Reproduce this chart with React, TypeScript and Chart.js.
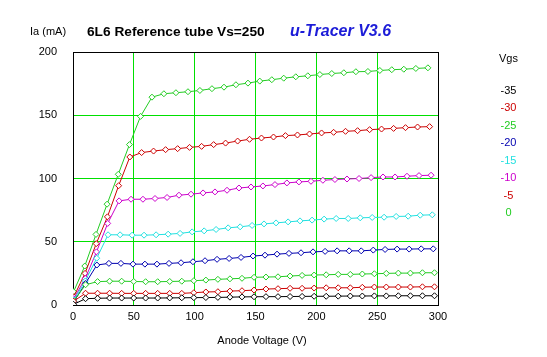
import { useEffect, useRef } from "react";
import { Chart, registerables } from "chart.js";

Chart.register(...registerables);

// ---- data ----
const vgsLabels = ["-35", "-30", "-25", "-20", "-15", "-10", "-5", "0"];
const seriesColors = ["#000000", "#cc0000", "#22cc22", "#0000b0", "#22e0e0", "#cc00cc", "#cc0000", "#22cc22"];
const xTickValues = [0, 50, 100, 150, 200, 250, 300];
const yTickValues = [0, 50, 100, 150, 200];

const vaLow = [0.5, 10.3, 20.2, 30.1, 40.0, 49.9, 59.7, 69.6, 79.5, 89.4, 99.3, 109.2, 119.1, 129.0, 138.9, 148.8, 158.6, 168.5, 178.4, 188.3, 198.2, 208.1, 218.0, 227.9, 237.8, 247.7, 257.5, 267.4, 277.3, 287.2, 297.1];
const vaBlue = [0.7, 10.2, 19.6, 29.5, 39.4, 49.3, 59.1, 69.0, 78.9, 88.8, 98.6, 108.5, 118.4, 128.3, 138.1, 148.0, 157.8, 167.7, 177.5, 187.4, 197.3, 207.2, 217.1, 227.0, 236.9, 246.8, 256.5, 266.4, 276.3, 286.2, 296.1];
const vaCyan = [0.7, 10.1, 19.5, 28.8, 38.7, 48.6, 58.4, 68.3, 78.2, 88.0, 97.9, 107.8, 117.6, 127.5, 137.4, 147.2, 157.0, 166.9, 176.8, 186.6, 196.5, 206.4, 216.3, 226.2, 236.1, 245.9, 255.7, 265.6, 275.5, 285.4, 295.3];
const vaMagenta = [0.6, 10.1, 19.3, 28.5, 37.9, 47.7, 57.5, 67.4, 77.3, 87.1, 97.0, 106.9, 116.7, 126.6, 136.4, 146.3, 156.1, 166.0, 175.8, 185.7, 195.6, 205.4, 215.3, 225.2, 235.1, 245.0, 254.8, 264.7, 274.5, 284.4, 294.3];
const vaRed5 = [0.6, 9.9, 19.1, 28.3, 37.5, 46.7, 56.4, 66.2, 76.1, 86.0, 95.8, 105.7, 115.6, 125.4, 135.3, 145.1, 154.9, 164.8, 174.6, 184.5, 194.4, 204.3, 214.2, 224.0, 233.9, 243.8, 253.6, 263.5, 273.3, 283.2, 293.1];
const vaGreen0 = [0.5, 9.7, 18.9, 28.0, 37.2, 46.4, 55.5, 64.9, 74.7, 84.6, 94.5, 104.3, 114.2, 124.1, 133.9, 143.8, 153.5, 163.4, 173.2, 183.1, 193.0, 202.9, 212.7, 222.6, 232.5, 242.4, 252.2, 262.0, 271.9, 281.8, 291.7];

const iaVgs35 = [0.5, 5.0, 5.3, 5.5, 5.5, 5.5, 5.5, 5.5, 5.6, 5.7, 5.8, 5.9, 6.0, 6.2, 6.4, 6.5, 6.6, 6.6, 6.7, 6.8, 6.9, 6.9, 7.0, 7.1, 7.1, 7.2, 7.2, 7.3, 7.3, 7.3, 7.3];
const iaVgs30 = [3, 9.3, 9.3, 9.3, 9.2, 9.2, 9.2, 9.2, 9.2, 9.2, 9.7, 10.3, 10.5, 11, 11.3, 11.8, 12.6, 12.9, 13.2, 13.2, 13.4, 13.6, 13.6, 13.6, 14, 14.2, 14.2, 14.2, 14.2, 14.4, 14.4];
const iaVgs25 = [3, 16, 18.5, 18.8, 18.8, 18.6, 18.4, 18.4, 18.6, 18.8, 19.2, 19.7, 20.3, 20.7, 21.1, 21.9, 22.1, 22.3, 22.9, 23.4, 23.7, 23.9, 24.2, 24.2, 24.5, 24.7, 25, 25.2, 25.2, 25.5, 25.5];
const iaVgs20 = [2.6, 17, 31.6, 32.9, 32.9, 32.3, 32.3, 32.3, 32.9, 33.4, 34.2, 35, 36.1, 36.8, 37.6, 38.7, 39.4, 40.2, 40.8, 41.3, 42, 42.4, 42.8, 42.8, 42.8, 43.4, 43.9, 44.2, 44.2, 44.4, 44.4];
const iaVgs15 = [4, 19, 37, 55.5, 55.5, 55.2, 55.2, 55.5, 56, 56.6, 57.8, 58.6, 59.7, 61, 61.8, 62.9, 64.1, 64.9, 65.7, 66.5, 67.1, 67.9, 68.4, 68.4, 68.9, 69.2, 69.4, 70, 70.2, 71, 71.3];
const iaVgs10 = [5, 21, 42, 64.5, 82.3, 83.6, 83.6, 84.2, 85, 86.8, 87.6, 88.6, 89.4, 90.7, 92.5, 93.3, 94.1, 95.2, 96.5, 97.3, 97.8, 98.6, 99.2, 99.6, 100, 100.7, 101.2, 101.2, 101.8, 102.3, 102.6];
const iaVgs5 = [6.5, 25, 48.5, 69.7, 94.3, 117, 120.5, 121.7, 122.8, 123.6, 124.6, 125.4, 126.8, 128, 129.6, 131, 132, 132.8, 133.9, 134.4, 135.2, 136, 136.5, 137.3, 137.8, 138.6, 139.1, 139.6, 140.2, 140.7, 141];
const iaVgs0 = [10.5, 30.8, 55.8, 79.7, 103.3, 126.8, 149.1, 164.3, 167, 167.8, 168.6, 169.6, 171, 172.2, 174.1, 175.4, 177, 178.1, 179.3, 180.4, 181.2, 182.2, 183, 183.6, 184.4, 184.6, 185.4, 186, 186.4, 187, 187.5];

const seriesVa = [vaLow, vaLow, vaLow, vaBlue, vaCyan, vaMagenta, vaRed5, vaGreen0];
const seriesIa = [iaVgs35, iaVgs30, iaVgs25, iaVgs20, iaVgs15, iaVgs10, iaVgs5, iaVgs0];

const FONT = "'Liberation Sans', Arial, sans-serif";
const GRID_GREEN = "#00e000";

const framePlugin = {
  id: "frame",
  beforeDatasetsDraw(chart: any) {
    const { ctx, chartArea: a } = chart;
    ctx.save();
    ctx.strokeStyle = "#000";
    ctx.lineWidth = 1;
    ctx.strokeRect(Math.round(a.left) + 0.5, Math.round(a.top) + 0.5, Math.round(a.right - a.left), Math.round(a.bottom - a.top));
    ctx.restore();
  },
};

const textPlugin = {
  id: "texts",
  afterDraw(chart: any) {
    const { ctx } = chart;
    ctx.save();
    ctx.textBaseline = "alphabetic";
    ctx.textAlign = "left";
    ctx.fillStyle = "#000";
    ctx.font = `11px ${FONT}`;
    ctx.fillText("Ia (mA)", 30, 35);
    ctx.font = `bold 13.7px ${FONT}`;
    ctx.fillText("6L6 Reference tube Vs=250", 87, 36);
    ctx.fillStyle = "#1c1cd8";
    ctx.font = `italic bold 16px ${FONT}`;
    ctx.fillText("u-Tracer V3.6", 290, 36);
    // x axis title
    ctx.textAlign = "center";
    ctx.fillStyle = "#000";
    ctx.font = `11px ${FONT}`;
    ctx.fillText("Anode Voltage (V)", 262, 344);
    // legend
    ctx.fillText("Vgs", 508.5, 62);
    chart.data.datasets.forEach((ds: any, i: number) => {
      ctx.fillStyle = ds.borderColor;
      ctx.fillText(ds.label, 508.5, 93.5 + i * 17.5);
    });
    ctx.restore();
  },
};

export default function App() {
  const ref = useRef<HTMLCanvasElement | null>(null);
  useEffect(() => {
    if (!ref.current) return;
    const datasets = vgsLabels.map((lab, i) => ({
      label: lab,
      data: seriesVa[i].map((v, j) => ({ x: v, y: seriesIa[i][j] })),
      borderColor: seriesColors[i],
      backgroundColor: "#ffffff",
      pointBackgroundColor: "#ffffff",
      pointBorderColor: seriesColors[i],
      pointStyle: "rectRot",
      pointRadius: 3,
      pointBorderWidth: 1,
      borderWidth: 1,
      tension: 0,
      showLine: true,
    }));
    const chart = new Chart(ref.current, {
      type: "scatter",
      data: { datasets },
      options: {
        animation: false,
        responsive: false,
        events: [],
        layout: { padding: { top: 52, right: 109, left: 0, bottom: 0 } },
        plugins: { legend: { display: false }, tooltip: { enabled: false }, title: { display: false } },
        scales: {
          x: {
            type: "linear",
            min: 0,
            max: 300,
            afterBuildTicks: (s: any) => { s.ticks = xTickValues.map((v) => ({ value: v })); },
            afterFit: (s: any) => { s.height = 52; },
            ticks: { color: "#000", font: { family: FONT, size: 11 }, padding: 5, maxRotation: 0 },
            grid: { color: GRID_GREEN, drawTicks: false, lineWidth: 1 },
            border: { color: "#000", width: 1 },
            title: { display: false },
          },
          y: {
            type: "linear",
            min: 0,
            max: 200,
            afterBuildTicks: (s: any) => { s.ticks = yTickValues.map((v) => ({ value: v })); },
            afterFit: (s: any) => { s.width = 73; },
            ticks: { color: "#000", font: { family: FONT, size: 11 }, padding: 16 },
            grid: { color: GRID_GREEN, drawTicks: false, lineWidth: 1 },
            border: { color: "#000", width: 1 },
          },
        },
      },
      plugins: [framePlugin, textPlugin],
    } as any);
    return () => chart.destroy();
  }, []);
  return (
    <div style={{ position: "fixed", left: 0, top: 0, width: 547, height: 357, background: "#fff" }}>
      <canvas ref={ref} width={547} height={357} style={{ display: "block" }} />
    </div>
  );
}
